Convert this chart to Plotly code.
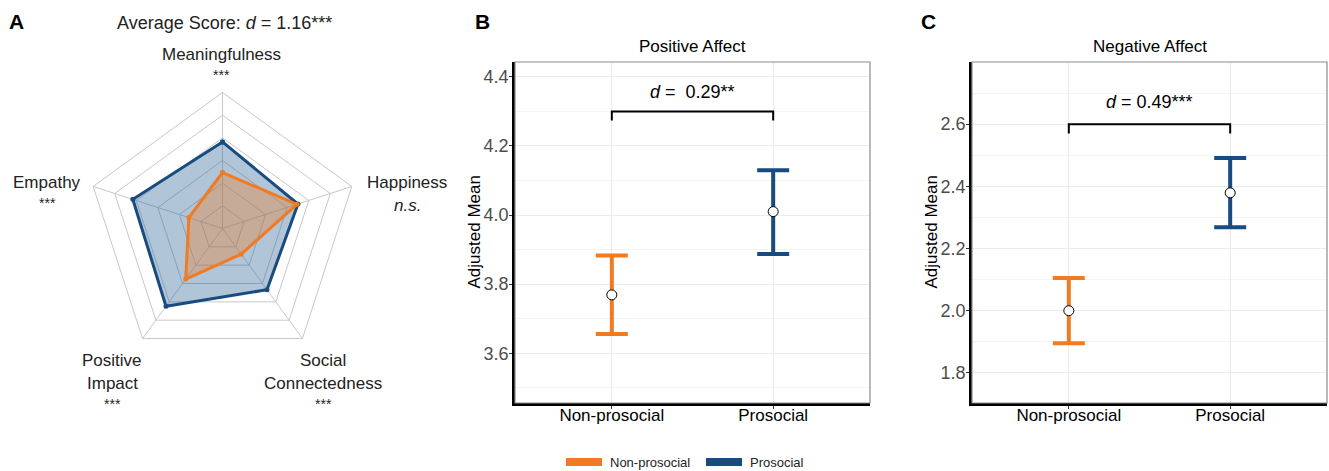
import plotly.graph_objects as go

# ---------------- data ----------------
radar_dims = ["Meaningfulness", "Happiness", "Social Connectedness", "Positive Impact", "Empathy"]
radar_prosocial = [4.82, 4.50, 4.34, 5.24, 5.16]
radar_nonprosocial = [3.47, 4.45, 2.40, 3.76, 2.56]

groups = ["Non-prosocial", "Prosocial"]
pa_mean = [3.769, 4.010]
pa_lower = [3.656, 3.887]
pa_upper = [3.883, 4.130]
pa_ticks = [3.6, 3.8, 4.0, 4.2, 4.4]
pa_bracket = [4.30, 4.274]  # bar level, tip level
pa_label = "<i>d</i> =\u00a0 0.29**"

na_mean = [2.000, 2.379]
na_lower = [1.895, 2.268]
na_upper = [2.105, 2.491]
na_ticks = [1.8, 2.0, 2.2, 2.4, 2.6]
na_bracket = [2.600, 2.570]
na_label = "<i>d</i> = 0.49***"

ORANGE = "#F07B22"
BLUE = "#184B7F"
FONT = "Liberation Sans, Arial, sans-serif"
W, H = 1329, 471


def px(x):
    return x / W


def py(y):
    return 1 - y / H


fig = go.Figure()

# ---------------- radar ----------------
theta = radar_dims + [radar_dims[0]]
fig.add_trace(go.Scatterpolar(
    r=radar_prosocial + [radar_prosocial[0]], theta=theta, mode="lines+markers",
    line=dict(color=BLUE, width=3), marker=dict(color=BLUE, size=5),
    fill="toself", fillcolor="rgba(30,90,140,0.35)", showlegend=False, hoverinfo="skip"))
fig.add_trace(go.Scatterpolar(
    r=radar_nonprosocial + [radar_nonprosocial[0]], theta=theta, mode="lines+markers",
    line=dict(color=ORANGE, width=3), marker=dict(color=ORANGE, size=5),
    fill="toself", fillcolor="rgba(240,123,34,0.35)", showlegend=False, hoverinfo="skip"))

fig.update_layout(polar=dict(
    domain=dict(x=[px(222.5 - 136), px(222.5 + 136)], y=[py(228.5 + 136), py(228.5 - 136)]),
    bgcolor="white", gridshape="linear",
    radialaxis=dict(range=[1, 7], dtick=1, showticklabels=False, ticks="", showline=False,
                    gridcolor="#c8c8c8", gridwidth=1),
    angularaxis=dict(direction="clockwise", rotation=90, showticklabels=False, ticks="",
                     showline=True, linecolor="#c8c8c8", linewidth=1, gridcolor="#c8c8c8",
                     categoryorder="array", categoryarray=radar_dims),
))


# ---------------- error-bar panels ----------------
def add_panel(xa, ya, mean, lower, upper, bracket):
    for i, (g, col) in enumerate(zip(groups, [ORANGE, BLUE])):
        fig.add_trace(go.Scatter(
            x=[g], y=[mean[i]], mode="markers", xaxis=xa, yaxis=ya,
            marker=dict(color="white", size=10, line=dict(color="black", width=1)),
            error_y=dict(type="data", symmetric=False, array=[upper[i] - mean[i]],
                         arrayminus=[mean[i] - lower[i]], color=col, thickness=4, width=16),
            showlegend=False, hoverinfo="skip"))
    fig.add_trace(go.Scatter(
        x=[groups[0], groups[0], groups[1], groups[1]],
        y=[bracket[1], bracket[0], bracket[0], bracket[1]],
        mode="lines", line=dict(color="black", width=2), xaxis=xa, yaxis=ya,
        showlegend=False, hoverinfo="skip"))


add_panel("x", "y", pa_mean, pa_lower, pa_upper, pa_bracket)
add_panel("x2", "y2", na_mean, na_lower, na_upper, na_bracket)

xaxis_common = dict(type="category", categoryorder="array", categoryarray=groups,
                    range=[-0.6, 1.6], showgrid=True, gridcolor="#ebebeb", gridwidth=1,
                    showline=True, linecolor="black", linewidth=2.5, zeroline=False,
                    ticks="outside", ticklen=3, tickcolor="#333333", tickwidth=1,
                    ticklabelstandoff=-8,
                    tickfont=dict(family=FONT, size=17, color="black"), fixedrange=True)
yaxis_common = dict(showgrid=True, gridcolor="#ebebeb", gridwidth=1, zeroline=False,
                    showline=True, linecolor="black", linewidth=2.5,
                    ticks="outside", ticklen=3, tickcolor="#333333", tickwidth=1,
                    ticklabelstandoff=-3,
                    tickformat=".1f", tickfont=dict(family=FONT, size=18, color="#4d4d4d"),
                    minor=dict(dtick=0.1, showgrid=True, gridcolor="#f4f4f4", gridwidth=1),
                    fixedrange=True)

ydom = [py(403), py(62)]
fig.update_layout(
    xaxis=dict(domain=[px(515), px(870)], anchor="y", **xaxis_common),
    yaxis=dict(domain=ydom, anchor="x", range=[3.456, 4.443], tickvals=pa_ticks, **yaxis_common),
    xaxis2=dict(domain=[px(972), px(1327)], anchor="y2", **xaxis_common),
    yaxis2=dict(domain=ydom, anchor="x2", range=[1.703, 2.80], tickvals=na_ticks, **yaxis_common),
)

shapes = []
for xr in ["x", "x2"]:
    yr = "y" if xr == "x" else "y2"
    shapes.append(dict(type="rect", xref=f"{xr} domain", yref=f"{yr} domain", x0=0, x1=1, y0=0, y1=1,
                       line=dict(color="#8c8c8c", width=1.2), fillcolor="rgba(0,0,0,0)", layer="above"))

ann = []


def text(x, y, s, size=17, color="#222222", **kw):
    opts = dict(xanchor="center", yanchor="middle")
    opts.update(kw)
    ann.append(dict(x=px(x), y=py(y), xref="paper", yref="paper", text=s, showarrow=False,
                    font=dict(family=FONT, size=size, color=color), **opts))


# legend (drawn manually to match patch size)
legend_items = [("Non-prosocial", ORANGE, 566), ("Prosocial", BLUE, 706)]
for name, col, x0 in legend_items:
    shapes.append(dict(type="rect", xref="paper", yref="paper", x0=px(x0), x1=px(x0 + 36),
                       y0=py(466), y1=py(458), fillcolor=col, line=dict(width=0)))
    text(x0 + 42, 462, name, size=13, color="#222222", xanchor="left")

# panel letters
text(16, 22, "<b>A</b>", size=21, color="black")
text(482, 22, "<b>B</b>", size=21, color="black")
text(928, 22, "<b>C</b>", size=21, color="black")

# radar title and labels
text(224, 23, "Average Score: <i>d</i> = 1.16***", size=18)
text(221, 55, "Meaningfulness", size=17)
text(221, 75, "***", size=14)
text(407, 182, "Happiness", size=17)
text(407, 205, "<i>n.s.</i>", size=17)
text(47, 182, "Empathy", size=17)
text(47, 203, "***", size=14)
text(112, 360, "Positive", size=17)
text(112, 383, "Impact", size=17)
text(112, 404, "***", size=14)
text(323, 360, "Social", size=17)
text(323, 383, "Connectedness", size=17)
text(323, 404, "***", size=14)

# panel titles and axis titles
text(692.5, 46.5, "Positive Affect", size=17, color="black")
text(1149.5, 46.5, "Negative Affect", size=17, color="black")
text(474, 232.5, "Adjusted Mean", size=17, color="black", textangle=-90)
text(931, 232.5, "Adjusted Mean", size=17, color="black", textangle=-90)

# effect size labels (data coordinates)
ann.append(dict(x=0.5, y=4.355, xref="x", yref="y", text=pa_label, showarrow=False,
                font=dict(family=FONT, size=18, color="black")))
ann.append(dict(x=0.5, y=2.672, xref="x2", yref="y2", text=na_label, showarrow=False,
                font=dict(family=FONT, size=18, color="black")))

fig.update_layout(
    width=W, height=H, margin=dict(l=0, r=0, t=0, b=0),
    paper_bgcolor="white", plot_bgcolor="white",
    font=dict(family=FONT, size=14, color="#222222"),
    annotations=ann, shapes=shapes, showlegend=False,
)

fig.write_html("out.html", config={"displayModeBar": False},
               post_script="document.body.style.margin='0';document.body.style.overflow='hidden';")
